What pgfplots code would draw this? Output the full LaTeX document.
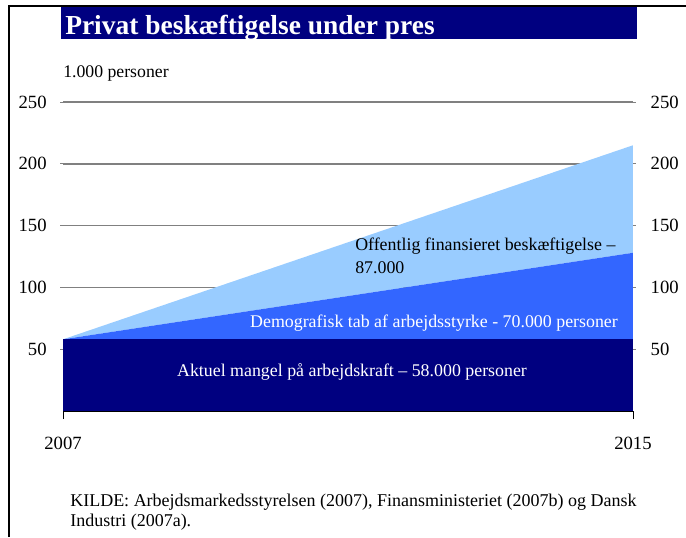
\documentclass[border=0pt]{standalone}
\usepackage{fontspec}
\setmainfont{Liberation Serif}
\usepackage{pgfplots}
\pgfplotsset{compat=1.18}
\definecolor{cNavy}{HTML}{000080}
\definecolor{cBlue}{HTML}{3366FF}
\definecolor{cLight}{HTML}{99CCFF}
\definecolor{cGrid}{HTML}{808080}

\begin{document}
\begin{tikzpicture}[x=0.75pt,y=-0.75pt]
\path[use as bounding box] (0,0) rectangle (686,537);
% frame (top and left only)
\draw[line width=1.6pt] (9,537) -- (9,6) -- (686,6);
% title bar
\fill[cNavy] (61,7) rectangle (637,39);
\node[anchor=base west,text=white,font=\fontsize{20.6}{24}\selectfont\bfseries,inner sep=0pt]
  at (65,34) {Privat beskæftigelse under pres};
\node[anchor=west,font=\fontsize{13.3}{15}\selectfont,inner sep=0pt] at (63,73) {1.000 personer};

\coordinate (O) at (63,411);
\pgfplotsset{common/.style={
  at={(O)},anchor=south west,scale only axis,
  width=427.5pt,height=231.75pt,
  xmin=2007,xmax=2015,ymin=0,ymax=250,
  ytick={50,100,150,200,250},
  tick label style={font=\fontsize{14}{16}\selectfont},
  /pgf/number format/assume math mode=true,
  /pgf/number format/1000 sep={}}}
\begin{axis}[common,
  axis x line*=bottom,axis y line*=left,
  x axis line style={-,black,line width=1.5pt},
  y axis line style={draw=none},
  xtick={2007,2015},
  tick align=outside,
  xtick style={black,line width=0.6pt},
  xtick style={/pgfplots/major tick length=6pt},
  ytick style={cGrid,line width=0.5pt,/pgfplots/major tick length=2pt},
  xticklabel style={yshift=-12pt},
  yticklabel style={xshift=-4.5pt},
  ymajorgrids,grid style={cGrid,line width=1.3pt},
  stack plots=y]
\addplot[fill=cNavy,draw=none] coordinates {(2007,58) (2015,58)} \closedcycle;
\addplot[fill=cBlue,draw=none] coordinates {(2007,0) (2015,70)} \closedcycle;
\addplot[fill=cLight,draw=none] coordinates {(2007,0) (2015,87)} \closedcycle;
\end{axis}
\begin{axis}[common,
  axis x line=none,axis y line*=right,
  y axis line style={draw=none},
  tick align=outside,
  ytick style={cGrid,line width=0.5pt,/pgfplots/major tick length=2pt},
  yticklabel style={xshift=5.5pt}]
\end{axis}

\node[text=white,font=\fontsize{13.4}{15}\selectfont,inner sep=0pt] at (352,372)
  {Aktuel mangel på arbejdskraft – 58.000 personer};
\node[text=white,font=\fontsize{13.4}{15}\selectfont,inner sep=0pt] at (434,323)
  {Demografisk tab af arbejdsstyrke - 70.000 personer};
\node[anchor=north west,align=left,font=\fontsize{13.4}{17}\selectfont,inner sep=0pt] at (355,238)
  {Offentlig finansieret beskæftigelse –\\87.000};
\node[anchor=north west,align=left,font=\fontsize{13.5}{15}\selectfont,inner sep=0pt] at (70,494)
  {KILDE: Arbejdsmarkedsstyrelsen (2007), Finansministeriet (2007b) og Dansk\\Industri (2007a).};
\end{tikzpicture}
\end{document}
